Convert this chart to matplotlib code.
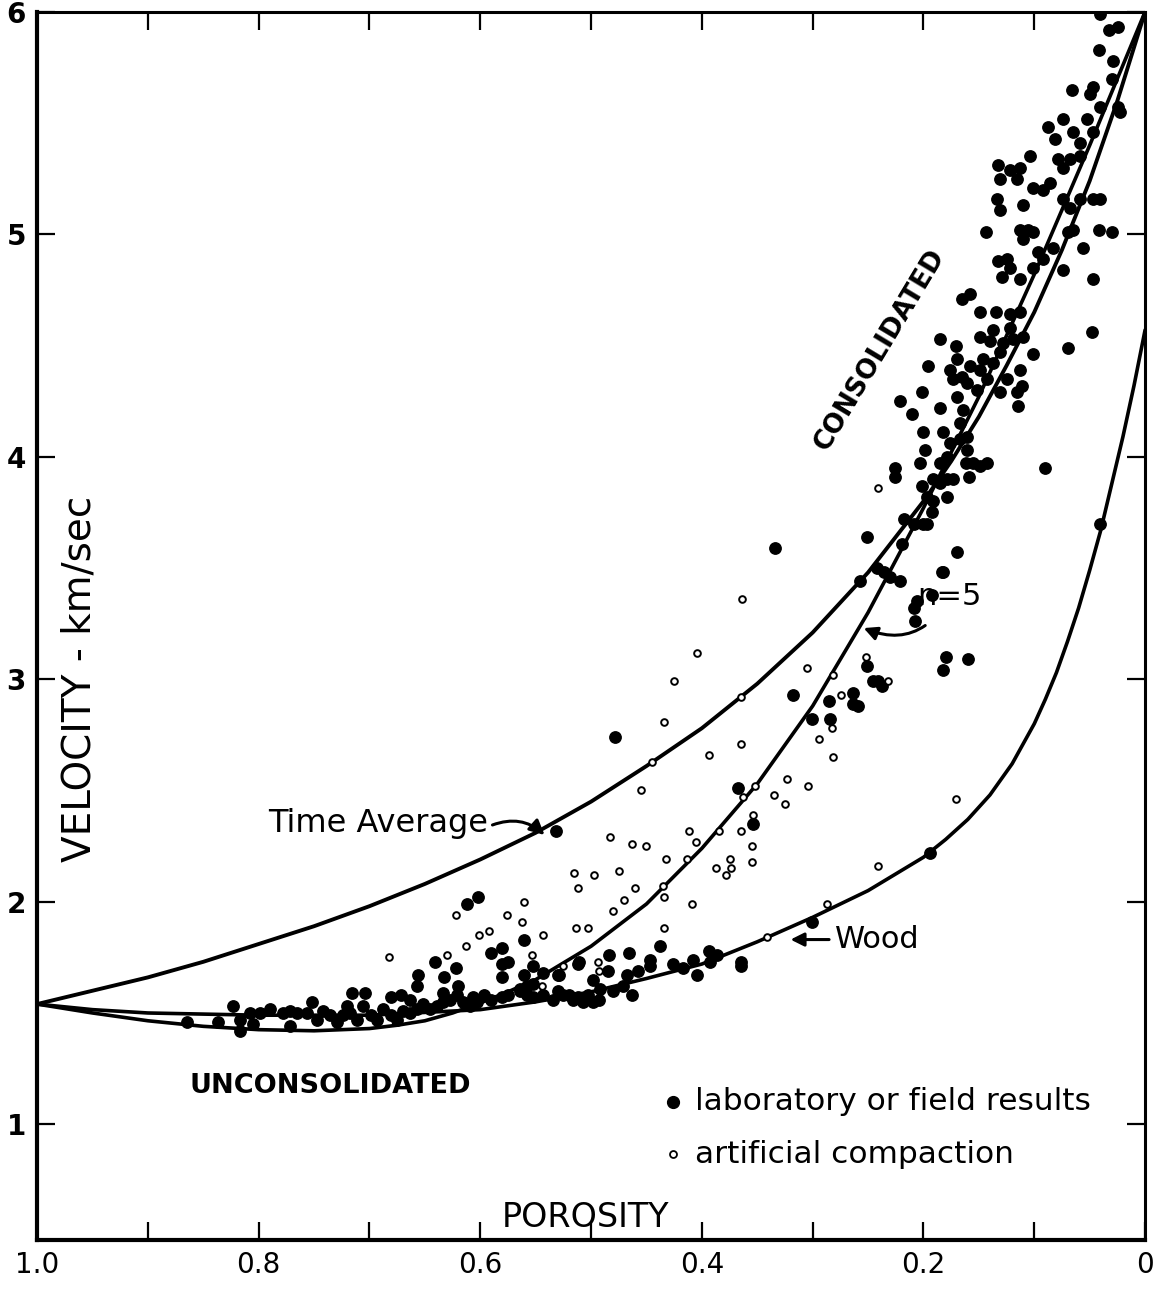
import numpy as np
import matplotlib.pyplot as plt

# ---- model curves: porosity vs velocity (km/sec) ----
phi_avg = [1.0, 0.95, 0.9, 0.85, 0.8, 0.75, 0.7, 0.65, 0.6, 0.55, 0.5, 0.45, 0.4,
           0.35, 0.3, 0.25, 0.2, 0.175, 0.15, 0.125, 0.1, 0.075, 0.05, 0.025, 0.0]
v_avg = [1.54, 1.60, 1.66, 1.73, 1.81, 1.89, 1.98, 2.08, 2.19, 2.31, 2.45, 2.61, 2.78,
         2.98, 3.21, 3.48, 3.80, 3.98, 4.18, 4.41, 4.65, 4.93, 5.24, 5.60, 6.0]

phi_n5 = [1.0, 0.95, 0.9, 0.85, 0.8, 0.75, 0.7, 0.675, 0.65, 0.625, 0.6, 0.575, 0.55,
          0.5, 0.45, 0.4, 0.35, 0.3, 0.25, 0.2, 0.15, 0.1, 0.05, 0.0]
v_n5 = [1.54, 1.50, 1.465, 1.44, 1.425, 1.42, 1.43, 1.445, 1.465, 1.50, 1.545, 1.595, 1.65,
        1.80, 1.99, 2.24, 2.53, 2.88, 3.30, 3.77, 4.27, 4.82, 5.40, 6.0]

phi_wood = [1.0, 0.95, 0.9, 0.8, 0.7, 0.6, 0.55, 0.5, 0.45, 0.4, 0.35, 0.3, 0.25, 0.2,
            0.18, 0.16, 0.14, 0.12, 0.1, 0.09, 0.08, 0.07, 0.06, 0.05, 0.04, 0.03,
            0.02, 0.01, 0.0]
v_wood = [1.54, 1.515, 1.50, 1.49, 1.49, 1.515, 1.55, 1.595, 1.655, 1.72, 1.82, 1.93,
          2.05, 2.20, 2.28, 2.37, 2.48, 2.62, 2.80, 2.91, 3.03, 3.17, 3.32, 3.49, 3.67,
          3.88, 4.09, 4.32, 4.57]

# ---- laboratory or field results (porosity, velocity) ----
lab = [
    (0.041, 5.99), (0.033, 5.92), (0.024, 5.93), (0.042, 5.83), (0.029, 5.78), (0.066, 5.65),
    (0.047, 5.66), (0.050, 5.63), (0.030, 5.70), (0.024, 5.57), (0.023, 5.55), (0.041, 5.57),
    (0.074, 5.52), (0.088, 5.48), (0.081, 5.43), (0.065, 5.46), (0.059, 5.41), (0.052, 5.52),
    (0.047, 5.46), (0.133, 5.31), (0.122, 5.29), (0.113, 5.30), (0.104, 5.35), (0.131, 5.25),
    (0.134, 5.16), (0.131, 5.11), (0.116, 5.25), (0.101, 5.21), (0.092, 5.20), (0.086, 5.23),
    (0.079, 5.34), (0.074, 5.30), (0.068, 5.34), (0.059, 5.35), (0.110, 5.13), (0.074, 5.16),
    (0.068, 5.12), (0.059, 5.16), (0.047, 5.16), (0.041, 5.16), (0.144, 5.01), (0.113, 5.02),
    (0.106, 5.02), (0.101, 5.01), (0.110, 4.98), (0.070, 5.01), (0.065, 5.02), (0.042, 5.02),
    (0.030, 5.01), (0.056, 4.94), (0.074, 4.84), (0.047, 4.80), (0.133, 4.88), (0.125, 4.89),
    (0.122, 4.85), (0.129, 4.81), (0.097, 4.92), (0.092, 4.89), (0.083, 4.94), (0.158, 4.73),
    (0.165, 4.71), (0.113, 4.80), (0.101, 4.85),
    (0.149, 4.65), (0.135, 4.65), (0.122, 4.64), (0.113, 4.65), (0.137, 4.57), (0.122, 4.58),
    (0.185, 4.53), (0.171, 4.50), (0.149, 4.54), (0.140, 4.52), (0.128, 4.51), (0.119, 4.53),
    (0.110, 4.54), (0.101, 4.46), (0.070, 4.49), (0.048, 4.56), (0.196, 4.41), (0.176, 4.39),
    (0.170, 4.44), (0.165, 4.36), (0.158, 4.41), (0.149, 4.39), (0.146, 4.44), (0.137, 4.42),
    (0.131, 4.47), (0.173, 4.35), (0.161, 4.33), (0.152, 4.30), (0.143, 4.35), (0.113, 4.39),
    (0.111, 4.32), (0.116, 4.29), (0.125, 4.35), (0.131, 4.29), (0.201, 4.29), (0.221, 4.25),
    (0.210, 4.19), (0.185, 4.22), (0.170, 4.27), (0.115, 4.23), (0.164, 4.21), (0.167, 4.15),
    (0.200, 4.11), (0.182, 4.11), (0.176, 4.06), (0.167, 4.08), (0.161, 4.09), (0.199, 4.03),
    (0.203, 3.97), (0.185, 3.97), (0.179, 4.00), (0.161, 4.03), (0.162, 3.97), (0.155, 3.97),
    (0.149, 3.96), (0.143, 3.97), (0.159, 3.91), (0.090, 3.95), (0.226, 3.95), (0.226, 3.91),
    (0.201, 3.87), (0.197, 3.82), (0.191, 3.90), (0.185, 3.88), (0.179, 3.90), (0.173, 3.90),
    (0.191, 3.80), (0.179, 3.82), (0.192, 3.75), (0.197, 3.70), (0.218, 3.72), (0.251, 3.64),
    (0.219, 3.61), (0.170, 3.57), (0.183, 3.48), (0.242, 3.50), (0.236, 3.48), (0.041, 3.70),
    (0.209, 3.70), (0.200, 3.70), (0.334, 3.59), (0.230, 3.46), (0.221, 3.44), (0.257, 3.44),
    (0.206, 3.35), (0.209, 3.32), (0.192, 3.38), (0.208, 3.26), (0.182, 3.48), (0.182, 3.04),
    (0.251, 3.06), (0.246, 2.99), (0.237, 2.97), (0.264, 2.94), (0.264, 2.89), (0.259, 2.88),
    (0.285, 2.90), (0.301, 2.82), (0.284, 2.82), (0.318, 2.93), (0.478, 2.74), (0.160, 3.09),
    (0.180, 3.10), (0.241, 2.99), (0.532, 2.32), (0.367, 2.51), (0.354, 2.35),
    (0.194, 2.22), (0.301, 1.91), (0.438, 1.80), (0.484, 1.76), (0.511, 1.73), (0.529, 1.67),
    (0.485, 1.69), (0.498, 1.65), (0.466, 1.77), (0.447, 1.74), (0.447, 1.71), (0.458, 1.69),
    (0.463, 1.58), (0.426, 1.72), (0.417, 1.70), (0.408, 1.74), (0.404, 1.67), (0.394, 1.78),
    (0.386, 1.76), (0.393, 1.73), (0.365, 1.73), (0.365, 1.71), (0.492, 1.61), (0.480, 1.60),
    (0.471, 1.62), (0.525, 1.58), (0.516, 1.56), (0.507, 1.55), (0.498, 1.55), (0.534, 1.56),
    (0.468, 1.67),
    (0.612, 1.99), (0.602, 2.02), (0.561, 1.83), (0.590, 1.77), (0.580, 1.79), (0.641, 1.73),
    (0.580, 1.72), (0.575, 1.73), (0.580, 1.66), (0.656, 1.67), (0.622, 1.70), (0.633, 1.66),
    (0.752, 1.55), (0.716, 1.59), (0.704, 1.59), (0.720, 1.53), (0.657, 1.62), (0.620, 1.62),
    (0.634, 1.59), (0.681, 1.57), (0.672, 1.58), (0.663, 1.56), (0.607, 1.57), (0.561, 1.67),
    (0.552, 1.71), (0.543, 1.68), (0.530, 1.67), (0.512, 1.72),
    (0.823, 1.53), (0.817, 1.47), (0.817, 1.42), (0.808, 1.50), (0.799, 1.50), (0.790, 1.52),
    (0.778, 1.50), (0.772, 1.51), (0.765, 1.50), (0.805, 1.45), (0.772, 1.44), (0.756, 1.50),
    (0.747, 1.47), (0.742, 1.51), (0.736, 1.49), (0.729, 1.46), (0.724, 1.49), (0.718, 1.50),
    (0.711, 1.47), (0.706, 1.53), (0.699, 1.49), (0.693, 1.47), (0.688, 1.52), (0.681, 1.49),
    (0.675, 1.47), (0.670, 1.51), (0.663, 1.50), (0.657, 1.52), (0.652, 1.54), (0.645, 1.52),
    (0.639, 1.53), (0.634, 1.55), (0.627, 1.56), (0.621, 1.58), (0.616, 1.55), (0.609, 1.53),
    (0.603, 1.55), (0.597, 1.58), (0.590, 1.56), (0.580, 1.57), (0.575, 1.58), (0.564, 1.60),
    (0.558, 1.58), (0.552, 1.57), (0.543, 1.58), (0.530, 1.60), (0.520, 1.58), (0.512, 1.57),
    (0.503, 1.58), (0.493, 1.56), (0.564, 1.61), (0.558, 1.62), (0.552, 1.63), (0.865, 1.46),
    (0.837, 1.46),
]

# ---- artificial compaction (porosity, velocity) ----
compaction = [
    (0.241, 3.86), (0.364, 3.36), (0.404, 3.12), (0.425, 2.99), (0.365, 2.92), (0.434, 2.81),
    (0.365, 2.71), (0.394, 2.66), (0.445, 2.63), (0.455, 2.50), (0.305, 3.05), (0.282, 3.02),
    (0.274, 2.93), (0.252, 3.10), (0.232, 2.99), (0.283, 2.78), (0.294, 2.73), (0.282, 2.65),
    (0.323, 2.55), (0.304, 2.52), (0.352, 2.52), (0.335, 2.48), (0.325, 2.44), (0.363, 2.47),
    (0.354, 2.39), (0.412, 2.32), (0.385, 2.32), (0.365, 2.32), (0.355, 2.25), (0.483, 2.29),
    (0.463, 2.26), (0.450, 2.25), (0.405, 2.27), (0.171, 2.46), (0.432, 2.19), (0.413, 2.19),
    (0.375, 2.19), (0.355, 2.18), (0.387, 2.15), (0.374, 2.15), (0.378, 2.12), (0.515, 2.13),
    (0.497, 2.12), (0.475, 2.14), (0.512, 2.06), (0.460, 2.06), (0.435, 2.07), (0.470, 2.01),
    (0.480, 1.96), (0.434, 2.02), (0.409, 1.99), (0.514, 1.88), (0.503, 1.88), (0.434, 1.88),
    (0.287, 1.99), (0.241, 2.16), (0.341, 1.84), (0.494, 1.73), (0.493, 1.69), (0.525, 1.71),
    (0.561, 2.00), (0.576, 1.94), (0.562, 1.91), (0.543, 1.85), (0.622, 1.94), (0.592, 1.87),
    (0.601, 1.85), (0.613, 1.80), (0.630, 1.76), (0.682, 1.75), (0.553, 1.76), (0.544, 1.62),
]

x_major = [1.0, 0.8, 0.6, 0.4, 0.2, 0.0]
x_labels = ['1.0', '0.8', '0.6', '0.4', '0.2', '0']
x_minor = [0.9, 0.7, 0.5, 0.3, 0.1]
y_major = [1, 2, 3, 4, 5, 6]
y_labels = ['1', '2', '3', '4', '5', '6']

lab = np.array(lab)
compaction = np.array(compaction)

fig = plt.figure(figsize=(11.59, 13.10), dpi=100)
ax = fig.add_axes([0.032, 0.0535, 0.956, 0.9375])

ax.plot(phi_avg, v_avg, color='k', lw=2.8, solid_capstyle='round')
ax.plot(phi_n5, v_n5, color='k', lw=2.6, solid_capstyle='round')
ax.plot(phi_wood, v_wood, color='k', lw=2.6, solid_capstyle='round')

ax.plot(lab[:, 0], lab[:, 1], 'o', color='k', ms=8.2, mec='k')
ax.plot(compaction[:, 0], compaction[:, 1], 'o', mfc='white', mec='k', ms=4.8, mew=1.4)

ax.set_xlim(1.0, 0.0)
ax.set_ylim(0.48, 6.0)
ax.set_xticks(x_major)
ax.set_xticklabels(x_labels, fontsize=20)
ax.set_xticks(x_minor, minor=True)
ax.set_yticks(y_major)
ax.set_yticklabels(y_labels, fontsize=20, fontweight='bold')
ax.tick_params(which='both', direction='in', length=13, width=1.6,
               top=True, right=True)
ax.tick_params(axis='x', pad=8)
ax.tick_params(axis='y', pad=8)
for side in ['left', 'bottom']:
    ax.spines[side].set_linewidth(3.0)
for side in ['right', 'top']:
    ax.spines[side].set_linewidth(2.2)

# labels drawn inside the frame
ax.text(0.962, 3.0, 'VELOCITY - km/sec', rotation=90, fontsize=28,
        ha='center', va='center')
ax.text(0.505, 0.58, 'POROSITY', fontsize=24, ha='center', va='center')
ax.text(0.735, 1.17, 'UNCONSOLIDATED', fontsize=19.5, fontweight='bold',
        ha='center', va='center')
ax.text(0.239, 4.48, 'CONSOLIDATED', fontsize=19, fontweight='bold',
        rotation=59, ha='center', va='center')

ax.text(0.692, 2.35, 'Time Average', fontsize=23, ha='center', va='center')
ax.annotate('', xy=(0.542, 2.30), xytext=(0.589, 2.345),
            arrowprops=dict(arrowstyle='-|>', color='k', lw=2.2, mutation_scale=22,
                            shrinkA=0, shrinkB=0, connectionstyle='arc3,rad=-0.3'))
ax.annotate('n=5', xy=(0.254, 3.23), xytext=(0.177, 3.37), fontsize=22,
            ha='center', va='center',
            arrowprops=dict(arrowstyle='-|>', color='k', lw=2.2, mutation_scale=20,
                            shrinkA=12, shrinkB=0, connectionstyle='arc3,rad=-0.45'))
ax.annotate('Wood', xy=(0.320, 1.83), xytext=(0.242, 1.83), fontsize=22,
            ha='center', va='center',
            arrowprops=dict(arrowstyle='-|>', color='k', lw=2.2, mutation_scale=20,
                            shrinkA=2, shrinkB=0))

# legend
ax.plot([0.426], [1.10], 'o', color='k', ms=8.5)
ax.text(0.406, 1.10, 'laboratory or field results', fontsize=22.5, va='center')
ax.plot([0.426], [0.865], 'o', mfc='white', mec='k', ms=5, mew=1.3)
ax.text(0.406, 0.865, 'artificial compaction', fontsize=22.5, va='center')

fig.savefig('out.png', dpi=100)
